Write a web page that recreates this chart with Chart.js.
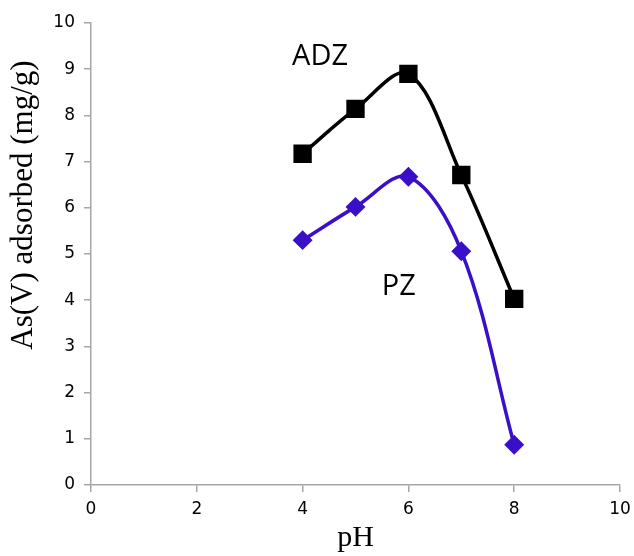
<!DOCTYPE html>
<html>
<head>
<meta charset="utf-8">
<style>
  html, body { margin: 0; padding: 0; background: #fff; }
  #wrap { width: 634px; height: 556px; }
</style>
<script src="https://cdn.jsdelivr.net/npm/chart.js@4/dist/chart.umd.min.js"></script>
</head>
<body>
<div id="wrap"><canvas id="phChart" width="634" height="556"></canvas></div>
<script>
// pH values where adsorption was measured
const phValues = [4, 5, 6, 7, 8];
// As(V) adsorbed, mg/g
const adzValues = [7.17, 8.14, 8.9, 6.71, 4.03];
const pzValues = [5.3, 6.02, 6.67, 5.06, 0.87];
// axis ticks
const xTicks = [0, 2, 4, 6, 8, 10];
const yTicks = [0, 1, 2, 3, 4, 5, 6, 7, 8, 9, 10];
// series names written inside the plot, with where they sit (data units)
const seriesNames = ['ADZ', 'PZ'];
const namePositions = [{ x: 4.33, y: 9.26 }, { x: 5.82, y: 4.29 }];
const yTitle = 'As(V) adsorbed (mg/g)';

const axisGray = '#a6a6a6';

function toPoints(ys) {
    return phValues.map((x, i) => ({ x: x, y: ys[i] }));
}

// writes ADZ / PZ next to the curves, plus the y title (it sits above centre in the original)
const textPlugin = {
    id: 'extraText',
    afterDatasetsDraw(chart) {
        let ctx = chart.ctx;
        let xs = chart.scales.x;
        let ys = chart.scales.y;
        ctx.save();
        ctx.font = '29px "Open Sans", sans-serif';
        ctx.fillStyle = '#000';
        ctx.textAlign = 'center';
        ctx.textBaseline = 'middle';
        seriesNames.forEach((name, i) => {
            let p = namePositions[i];
            ctx.fillText(name, xs.getPixelForValue(p.x), ys.getPixelForValue(p.y));
        });

        ctx.font = '31px "Liberation Serif", "Times New Roman", serif';
        ctx.translate(24, ys.getPixelForValue(6.06));
        ctx.rotate(-Math.PI / 2);
        ctx.fillText(yTitle, 0, 0);
        ctx.restore();
    }
};

let ctx = document.getElementById('phChart').getContext('2d');
let phChart = new Chart(ctx, {
    type: 'line',
    data: {
        datasets: [
            {
                label: 'ADZ',
                data: toPoints(adzValues),
                borderColor: '#000000',
                backgroundColor: '#000000',
                borderWidth: 3.5,
                pointStyle: 'rect',
                pointRadius: 10.5,
                tension: 0.35,
                fill: false
            },
            {
                label: 'PZ',
                data: toPoints(pzValues),
                borderColor: '#3a0fc8',
                backgroundColor: '#3a0fc8',
                borderWidth: 3.5,
                pointStyle: 'rectRot',
                pointRadius: 7.5,
                tension: 0.35,
                fill: false
            }
        ]
    },
    options: {
        responsive: false,
        animation: false,
        layout: { padding: { top: 23, right: 12, left: 0, bottom: 0 } },
        scales: {
            x: {
                type: 'linear',
                min: 0,
                max: 10,
                afterBuildTicks: (scale) => { scale.ticks = xTicks.map(v => ({ value: v })); },
                afterFit: (scale) => {
                    scale.height = 71;
                    scale.paddingRight = 2;
                },
                grid: { drawOnChartArea: false, drawTicks: true, tickLength: 7, color: axisGray, lineWidth: 1.5 },
                border: { color: axisGray, width: 1.5 },
                ticks: { color: '#000', padding: 7, font: { family: '"DejaVu Sans", Verdana, sans-serif', size: 17 } },
                title: {
                    display: true,
                    text: 'pH',
                    color: '#000',
                    padding: { top: 0, bottom: 0 },
                    font: { family: '"Liberation Serif", "Times New Roman", serif', size: 30 }
                }
            },
            y: {
                type: 'linear',
                min: 0,
                max: 10,
                afterBuildTicks: (scale) => { scale.ticks = yTicks.map(v => ({ value: v })); },
                afterFit: (scale) => { scale.width = 91; },
                grid: { drawOnChartArea: false, drawTicks: true, tickLength: 7, color: axisGray, lineWidth: 1.5 },
                border: { color: axisGray, width: 1.5 },
                ticks: { color: '#000', padding: 9, font: { family: '"DejaVu Sans", Verdana, sans-serif', size: 17 } },
                title: { display: false }
            }
        },
        plugins: {
            legend: { display: false },
            tooltip: { enabled: false }
        }
    },
    plugins: [textPlugin]
});
</script>
</body>
</html>
